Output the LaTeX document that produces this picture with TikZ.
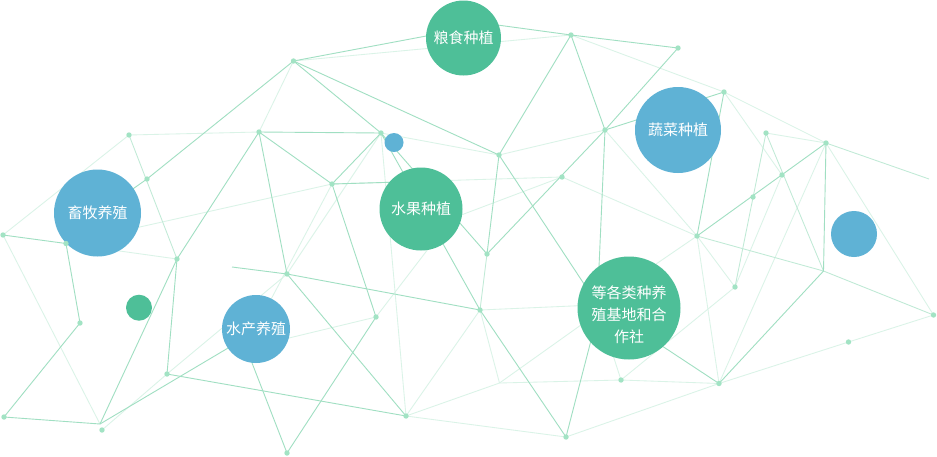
\documentclass[tikz,border=0pt]{standalone}
\usepackage{fontspec}
\newfontfamily\cjk{Noto Sans CJK SC}
\usetikzlibrary{backgrounds}
\definecolor{gc}{HTML}{4EBF98}
\definecolor{bc}{HTML}{5FB2D5}
\definecolor{dotc}{HTML}{A2E3C4}
\definecolor{lsc}{HTML}{A0DFC2}
\definecolor{lmc}{HTML}{C0EAD6}
\definecolor{lfc}{HTML}{DAF3E7}
\tikzset{
  dot/.style={circle, fill=dotc, inner sep=0pt, minimum size=5.4pt},
  bub/.style={circle, inner sep=0pt, text=white, align=center,
              font=\cjk\fontsize{15}{22}\selectfont},
  gbub/.style={bub, fill=gc},
  bbub/.style={bub, fill=bc},
  sl/.style={draw=lsc, line width=0.9pt},
  ml/.style={draw=lmc, line width=0.85pt},
  fl/.style={draw=lfc, line width=0.85pt},
}
\begin{document}
\begin{tikzpicture}[x=1pt,y=-1pt]
\useasboundingbox (0,0) rectangle (937,456);
% circles
\node[gbub, minimum size=75pt] (grain) at (463.5,38) {粮食种植};
\node[bbub, minimum size=87pt] (livestock) at (97.5,213) {畜牧养殖};
\node[gbub, minimum size=83pt] (fruit) at (421,209) {水果种植};
\node[bbub, minimum size=86pt] (veg) at (678,130) {蔬菜种植};
\node[gbub, minimum size=103pt] (coop) at (629,308)
  {\raisebox{-11.75pt}[0pt][0pt]{\begin{tabular}{@{}c@{}}等各类种养\\殖基地和合\\作社\end{tabular}}};
\node[bbub, minimum size=68pt] (aqua) at (256,329) {水产养殖};
\node[bbub, minimum size=19pt] (sblue) at (394,142.5) {};
\node[bbub, minimum size=46pt] (rblue) at (854,234) {};
\node[gbub, minimum size=26pt] (sgreen) at (139,307.7) {};
% dots
\node[dot] (p1) at (293.5,61) {};
\node[dot] (p2) at (129,135) {};
\node[dot] (p3) at (259,132) {};
\node[dot] (p4) at (381,133) {};
\node[dot] (p5) at (147,179) {};
\node[dot] (p6) at (332,184) {};
\node[dot] (p7) at (571,35) {};
\node[dot] (p8) at (678,48) {};
\node[dot] (p9) at (724,92) {};
\node[dot] (p10) at (605,130) {};
\node[dot] (p11) at (499,155) {};
\node[dot] (p12) at (562,177) {};
\node[dot] (p13) at (766,133) {};
\node[dot] (p14) at (826,143) {};
\node[dot] (p15) at (782,175) {};
\node[dot] (p16) at (753,197) {};
\node[dot] (p17) at (697,236) {};
\node[dot] (p18) at (735,287) {};
\node[dot] (p20) at (933.5,315) {};
\node[dot] (p21) at (848.5,342) {};
\node[dot] (p22) at (719,383.5) {};
\node[dot] (p23) at (621,380) {};
\node[dot] (p24) at (487,254) {};
\node[dot] (p25) at (480,310) {};
\node[dot] (p27) at (566,437) {};
\node[dot] (p28) at (3,235) {};
\node[dot] (p29) at (66,243.5) {};
\node[dot] (p30) at (177,259) {};
\node[dot] (p31) at (80,323) {};
\node[dot] (p32) at (4,417) {};
\node[dot] (p33) at (102,430) {};
\node[dot] (p34) at (167,374) {};
\node[dot] (p35) at (287,274) {};
\node[dot] (p36) at (376,317) {};
\node[dot] (p37) at (406,416) {};
\node[dot] (p38) at (287,453) {};
% bends, free ends, hidden ends
\coordinate (p19) at (823.5,271);
\coordinate (p26) at (499.5,383);
\coordinate (q) at (100,424);
\coordinate (e1) at (232,267);
\coordinate (e2) at (929,179);
\coordinate (h1) at (490,24);
\coordinate (hx) at (100,212);
\coordinate (hf1) at (440,223);
\coordinate (hf2) at (435,240);
\coordinate (hf3) at (400,182);
\coordinate (hd1) at (588,290);
\coordinate (hd2) at (598,290);
\coordinate (hd3) at (640,275);
\coordinate (hd4) at (650,338);
\coordinate (hd5) at (612,352);
\coordinate (hd6) at (595,315);
\coordinate (hd7) at (595,305);
\coordinate (hd8) at (595,325);
\coordinate (hs1) at (250,335);
\coordinate (hs2) at (268,305);
\coordinate (hs3) at (260,345);
\coordinate (hs4) at (240,332);
\begin{scope}[on background layer]
\fill[white] (0,0) rectangle (937,456);
% faint lines
\draw[fl] (p1.center) -- (p7.center);
\draw[fl] (p1.center) -- (p3.center);
\draw[fl] (p2.center) -- (p3.center);
\draw[fl] (p2.center) -- (p28.center);
\draw[fl] (p4.center) -- (p11.center);
\draw[fl] (p4.center) -- (p37.center);
\draw[fl] (p4.center) -- (p35.center);
\draw[fl] (p6.center) -- (p12.center);
\draw[fl] (p29.center) -- (p6.center);
\draw[fl] (hs2) -- (p6.center);
\draw[fl] (p7.center) -- (p9.center);
\draw[fl] (p11.center) -- (p10.center);
\draw[fl] (p12.center) -- (p17.center);
\draw[fl] (p12.center) -- (hf1);
\draw[fl] (p10.center) -- (p17.center);
\draw[fl] (p9.center) -- (p14.center);
\draw[fl] (p9.center) -- (p15.center);
\draw[fl] (p13.center) -- (p14.center);
\draw[fl] (p14.center) -- (p20.center);
\draw[fl] (p14.center) -- (p22.center);
\draw[fl] (p15.center) -- (p18.center);
\draw[fl] (p17.center) -- (p18.center);
\draw[fl] (p17.center) -- (p22.center);
\draw[fl] (p17.center) -- (hd3);
\draw[fl] (p18.center) -- (p23.center);
\draw[fl] (p20.center) -- (p21.center) -- (p22.center);
\draw[fl] (p22.center) -- (p23.center);
\draw[fl] (p22.center) -- (p27.center);
\draw[fl] (p23.center) -- (p26);
\draw[fl] (p23.center) -- (hd5);
\draw[fl] (p26) -- (p25.center);
\draw[fl] (p26) -- (p37.center);
\draw[fl] (p26) -- (hd6);
\draw[fl] (p25.center) -- (hd7);
\draw[fl] (p25.center) -- (p37.center);
\draw[fl] (p37.center) -- (p27.center);
\draw[fl] (p36.center) -- (hf2);
\draw[fl] (hs3) -- (p36.center);
\draw[fl] (p33.center) -- (p34.center);
\draw[fl] (p34.center) -- (p35.center);
\draw[fl] (p28.center) -- (q);
\draw[fl] (p29.center) -- (p30.center);
% medium lines
\draw[ml] (p2.center) -- (p30.center);
\draw[ml] (p13.center) -- (p19);
\draw[ml] (p13.center) -- (p18.center);
\draw[ml] (p14.center) -- (e2);
\draw[ml] (p17.center) -- (p19);
\draw[ml] (p19) -- (p20.center);
\draw[ml] (p25.center) -- (p24.center);
% strong lines
\draw[sl] (p1.center) -- (h1) -- (p7.center);
\draw[sl] (p1.center) -- (p5.center) -- (hx);
\draw[sl] (p1.center) -- (p4.center);
\draw[sl] (p1.center) -- (p11.center);
\draw[sl] (p3.center) -- (p4.center);
\draw[sl] (p3.center) -- (p6.center);
\draw[sl] (p3.center) -- (p30.center);
\draw[sl] (p3.center) -- (p35.center);
\draw[sl] (p4.center) -- (p6.center);
\draw[sl] (p4.center) -- (p25.center);
\draw[sl] (p4.center) -- (p24.center);
\draw[sl] (p6.center) -- (p36.center);
\draw[sl] (p6.center) -- (hf3);
\draw[sl] (p7.center) -- (p8.center);
\draw[sl] (p7.center) -- (p11.center);
\draw[sl] (p7.center) -- (p10.center);
\draw[sl] (p8.center) -- (p10.center);
\draw[sl] (p11.center) -- (p24.center);
\draw[sl] (p11.center) -- (hd1);
\draw[sl] (p10.center) -- (p24.center);
\draw[sl] (p10.center) -- (p9.center);
\draw[sl] (p10.center) -- (hd2);
\draw[sl] (p9.center) -- (p17.center);
\draw[sl] (p14.center) -- (p17.center);
\draw[sl] (p14.center) -- (p19);
\draw[sl] (p19) -- (p22.center);
\draw[sl] (p22.center) -- (hd4);
\draw[sl] (p25.center) -- (p27.center);
\draw[sl] (p27.center) -- (hd8);
\draw[sl] (p35.center) -- (p37.center);
\draw[sl] (e1) -- (p35.center) -- (p25.center);
\draw[sl] (p34.center) -- (p37.center);
\draw[sl] (p36.center) -- (p38.center);
\draw[sl] (hs4) -- (p38.center);
\draw[sl] (q) -- (hs1);
\draw[sl] (p34.center) -- (p30.center);
\draw[sl] (q) -- (p30.center);
\draw[sl] (p32.center) -- (q);
\draw[sl] (p31.center) -- (p32.center);
\draw[sl] (p29.center) -- (p31.center);
\draw[sl] (p28.center) -- (p29.center);
\end{scope}
\end{tikzpicture}
\end{document}
